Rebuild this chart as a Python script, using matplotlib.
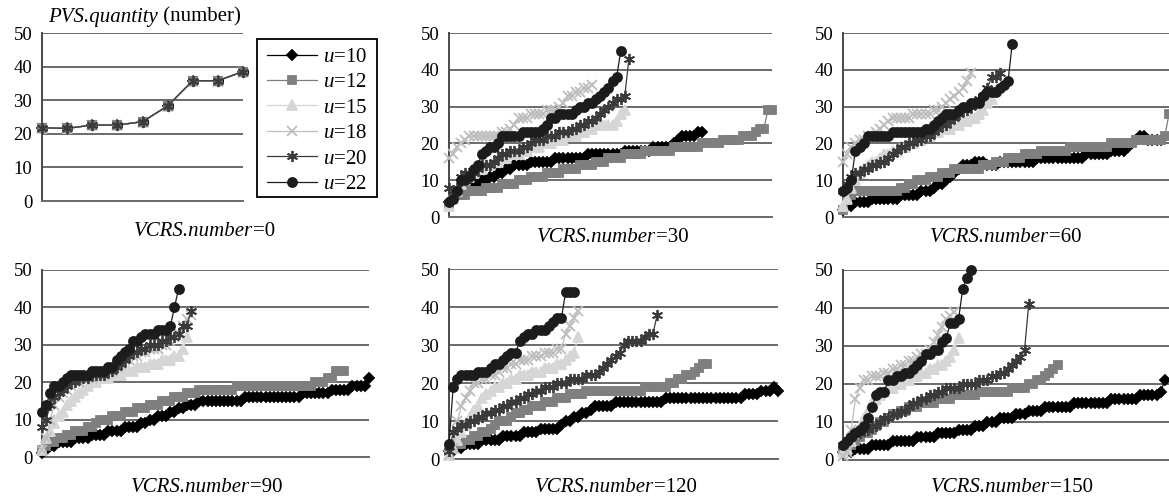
import matplotlib
matplotlib.use("Agg")
import matplotlib.pyplot as plt
from matplotlib.offsetbox import TextArea, HPacker, AnchoredOffsetbox
from matplotlib.patches import Rectangle
import numpy as np

plt.rcParams['font.family'] = ['Liberation Serif', 'DejaVu Serif']
plt.rcParams['mathtext.fontset'] = 'custom'
plt.rcParams['mathtext.it'] = 'Liberation Serif:italic'
plt.rcParams['mathtext.rm'] = 'Liberation Serif'

# ---- data (PVS.quantity per sample, sorted) ----
u_values = [10, 12, 15, 18, 20, 22]
vcrs_numbers = [0, 30, 60, 90, 120, 150]
y_ticks = [0, 10, 20, 30, 40, 50]

# VCRS.number = 0 : all u give the same curve
v0_all = [21.8, 21.6, 22.6, 22.6, 23.6, 28.3, 35.8, 35.8, 38.5]

# VCRS.number = 30
v30_u10 = [4, 5, 6, 7, 8, 8, 9, 9, 10, 10, 11, 11, 12, 12, 13, 13, 14, 14, 14, 14,
           15, 15, 15, 15, 15, 15, 16, 16, 16, 16, 16, 16, 16, 16, 17, 17, 17, 17, 17, 17,
           17, 17, 17, 18, 18, 18, 18, 18, 18, 18, 19, 19, 19, 19, 19, 20, 21, 22, 22, 22,
           22, 23, 23]
v30_u12 = [3, 5, 6, 6, 6, 7, 7, 7, 7, 8, 8, 8, 8, 9, 9, 9, 9, 10, 10, 10,
           11, 11, 11, 11, 12, 12, 12, 12, 13, 13, 13, 13, 14, 14, 14, 14, 15, 15, 15, 16,
           16, 16, 16, 17, 17, 17, 17, 17, 18, 18, 18, 18, 18, 18, 18, 19, 19, 19, 19, 19,
           19, 19, 20, 20, 20, 20, 20, 21, 21, 21, 21, 21, 22, 22, 22, 23, 24, 24, 29, 29]
v30_u15 = [3, 5, 7, 9, 10, 11, 12, 13, 13, 14, 14, 15, 15, 16, 16, 17, 17, 17, 18, 18,
           19, 19, 19, 20, 20, 20, 21, 21, 21, 22, 22, 22, 23, 23, 24, 24, 25, 25, 25, 25,
           25, 26, 28, 29]
v30_u18 = [16, 17, 19, 20, 21, 22, 22, 22, 22, 22, 22, 22, 22, 23, 23, 24, 25, 27, 27, 27,
           28, 28, 28, 28, 29, 29, 29, 30, 31, 33, 33, 34, 34, 35, 35, 36]
v30_u20 = [8, 7, 8, 11, 12, 12, 12, 13, 14, 14, 14, 15, 16, 17, 17, 18, 18, 18, 19, 19,
           20, 21, 21, 21, 22, 22, 22, 23, 23, 23, 24, 24, 25, 25, 26, 26, 27, 28, 29, 30,
           31, 32, 32, 33, 43]
v30_u22 = [4, 5, 7, 10, 10, 11, 13, 14, 17, 18, 19, 19, 20, 22, 22, 22, 22, 22, 23, 23,
           23, 23, 23, 24, 25, 27, 27, 28, 28, 28, 28, 29, 30, 30, 31, 31, 32, 33, 34, 35,
           37, 38, 45]

# VCRS.number = 60
v60_u10 = [2, 3, 3, 4, 4, 4, 4, 5, 5, 5, 5, 5, 5, 5, 6, 6, 6, 6, 6, 7,
           7, 7, 8, 9, 9, 10, 11, 12, 13, 14, 14, 14, 15, 15, 15, 14, 14, 14, 15, 15,
           15, 15, 15, 15, 15, 15, 15, 16, 16, 16, 16, 16, 16, 16, 16, 16, 16, 16, 16, 17,
           17, 17, 17, 17, 17, 18, 18, 18, 18, 19, 20, 21, 22, 22, 21, 21, 21, 21]
v60_u12 = [2, 5, 6, 7, 7, 7, 7, 7, 7, 7, 7, 7, 7, 7, 8, 8, 9, 9, 10, 10,
           10, 11, 11, 11, 12, 12, 12, 13, 13, 13, 13, 13, 13, 13, 14, 14, 14, 15, 15, 15,
           16, 16, 16, 16, 17, 17, 17, 17, 18, 18, 18, 18, 18, 18, 18, 19, 19, 19, 19, 19,
           19, 19, 19, 19, 19, 20, 20, 20, 20, 20, 20, 21, 21, 21, 21, 21, 21, 21, 22, 28]
v60_u15 = [3, 5, 8, 10, 12, 13, 14, 15, 15, 16, 17, 17, 18, 18, 19, 19, 20, 20, 21, 21,
           22, 22, 23, 23, 24, 24, 24, 25, 25, 26, 26, 27, 27, 28, 29, 31, 32]
v60_u18 = [15, 17, 19, 20, 21, 21, 22, 22, 23, 24, 25, 26, 27, 27, 27, 27, 27, 28, 28, 28,
           28, 28, 29, 29, 30, 31, 32, 33, 34, 35, 37, 39]
v60_u20 = [7, 9, 11, 12, 12, 13, 13, 14, 14, 15, 15, 16, 17, 18, 19, 19, 20, 20, 21, 21,
           22, 22, 23, 24, 25, 25, 26, 27, 28, 29, 29, 30, 31, 32, 33, 35, 38, 38, 39]
v60_u22 = [7, 8, 10, 18, 19, 20, 22, 22, 22, 22, 22, 22, 23, 23, 23, 23, 23, 23, 23, 23,
           24, 24, 25, 26, 27, 28, 28, 28, 29, 30, 30, 31, 31, 31, 33, 34, 34, 34, 35, 36,
           37, 47]

# VCRS.number = 90
v90_u10 = [1, 2, 3, 3, 4, 4, 4, 4, 5, 5, 5, 5, 6, 6, 6, 6, 7, 7, 7, 7,
           8, 8, 8, 8, 9, 9, 10, 10, 11, 11, 11, 12, 12, 13, 13, 14, 14, 14, 15, 15,
           15, 15, 15, 15, 15, 15, 15, 15, 15, 16, 16, 16, 16, 16, 16, 16, 16, 16, 16, 16,
           16, 16, 16, 17, 17, 17, 17, 17, 17, 17, 18, 18, 18, 18, 18, 19, 19, 19, 19, 21]
v90_u12 = [2, 3, 4, 4, 5, 5, 6, 6, 7, 7, 7, 8, 8, 9, 10, 10, 10, 11, 11, 11,
           12, 12, 12, 13, 13, 13, 14, 14, 14, 15, 15, 15, 16, 16, 16, 17, 17, 17, 18, 18,
           18, 18, 18, 18, 18, 18, 18, 19, 19, 19, 19, 19, 19, 19, 19, 19, 19, 19, 19, 19,
           19, 19, 19, 19, 19, 19, 20, 20, 20, 21, 21, 23, 23, 23]
v90_u15 = [2, 5, 7, 9, 11, 12, 14, 15, 16, 17, 18, 19, 20, 20, 21, 21, 21, 22, 22, 22,
           23, 23, 23, 24, 24, 24, 25, 25, 25, 26, 26, 26, 27, 27, 29, 32]
v90_u18 = [2, 5, 10, 14, 16, 17, 18, 19, 20, 20, 21, 21, 21, 22, 22, 22, 23, 23, 24, 25,
           26, 26, 27, 27, 28, 28, 29, 29, 29, 30, 30, 31, 32, 33, 35, 37, 38]
v90_u20 = [8, 10, 14, 16, 17, 18, 19, 20, 20, 21, 21, 21, 22, 22, 22, 22, 23, 23, 24, 25,
           26, 27, 28, 28, 29, 29, 30, 30, 30, 31, 31, 32, 32, 33, 35, 35, 39]
v90_u22 = [12, 14, 17, 19, 19, 20, 21, 22, 22, 22, 22, 22, 23, 23, 23, 23, 24, 24, 26, 27,
           28, 29, 31, 31, 32, 33, 33, 33, 34, 34, 34, 35, 40, 45]

# VCRS.number = 120
v120_u10 = [2, 2, 3, 3, 4, 4, 4, 4, 5, 5, 5, 5, 5, 6, 6, 6, 6, 6, 7, 7,
            7, 7, 8, 8, 8, 8, 8, 9, 10, 10, 11, 11, 12, 12, 13, 14, 14, 14, 14, 14,
            15, 15, 15, 15, 15, 15, 15, 15, 15, 15, 15, 15, 16, 16, 16, 16, 16, 16, 16, 16,
            16, 16, 16, 16, 16, 16, 16, 16, 16, 16, 16, 17, 17, 17, 17, 18, 18, 18, 19, 18]
v120_u12 = [2, 3, 4, 4, 5, 5, 6, 6, 7, 7, 8, 9, 10, 10, 10, 11, 12, 12, 13, 13,
            14, 14, 14, 15, 15, 15, 16, 16, 16, 17, 17, 17, 17, 18, 18, 18, 18, 18, 18, 18,
            18, 18, 18, 18, 18, 18, 18, 19, 19, 19, 19, 19, 19, 20, 20, 21, 21, 22, 22, 23,
            24, 25, 25]
v120_u15 = [1, 3, 5, 7, 9, 11, 13, 14, 16, 17, 18, 19, 19, 20, 20, 21, 21, 22, 22, 22,
            23, 23, 23, 24, 24, 24, 25, 25, 26, 27, 28, 32]
v120_u18 = [1, 3, 10, 14, 16, 18, 20, 20, 21, 21, 22, 22, 23, 24, 24, 25, 25, 26, 26, 26,
            27, 27, 27, 28, 28, 28, 29, 29, 33, 35, 37, 39]
v120_u20 = [2, 7, 8, 9, 9, 10, 10, 11, 11, 12, 12, 13, 13, 14, 14, 15, 15, 16, 16, 17,
            17, 18, 18, 19, 19, 19, 20, 20, 20, 21, 21, 21, 21, 22, 22, 22, 23, 24, 25, 26,
            27, 28, 30, 31, 31, 31, 31, 32, 33, 33, 38]
v120_u22 = [4, 19, 21, 22, 22, 22, 22, 23, 23, 23, 24, 25, 25, 26, 27, 28, 28, 31, 32, 33,
            33, 34, 34, 34, 35, 36, 37, 37, 44, 44, 44]

# VCRS.number = 150
v150_u10 = [2, 2, 2, 3, 3, 3, 3, 4, 4, 4, 4, 4, 5, 5, 5, 5, 5, 5, 6, 6,
            6, 6, 6, 7, 7, 7, 7, 7, 8, 8, 8, 8, 9, 9, 9, 10, 10, 10, 11, 11,
            11, 11, 12, 12, 12, 13, 13, 13, 13, 14, 14, 14, 14, 14, 14, 14, 15, 15, 15, 15,
            15, 15, 15, 15, 15, 16, 16, 16, 16, 16, 16, 16, 17, 17, 17, 17, 17, 18, 21]
v150_u12 = [2, 3, 4, 5, 6, 7, 7, 8, 9, 10, 10, 11, 12, 12, 13, 13, 14, 14, 14, 15,
            15, 15, 15, 16, 16, 16, 16, 17, 17, 17, 17, 17, 17, 18, 18, 18, 18, 18, 18, 18,
            18, 19, 19, 19, 19, 20, 20, 21, 21, 22, 23, 24, 25]
v150_u15 = [2, 3, 5, 7, 9, 11, 13, 15, 16, 17, 18, 19, 19, 20, 20, 21, 21, 22, 22, 23,
            23, 24, 24, 25, 25, 26, 27, 29, 32]
v150_u18 = [1, 2, 8, 16, 19, 21, 21, 22, 22, 22, 23, 23, 24, 24, 25, 25, 26, 26, 27, 28,
            28, 29, 31, 33, 35, 37, 38, 39]
v150_u20 = [4, 5, 6, 7, 7, 8, 8, 9, 9, 10, 11, 11, 12, 12, 13, 13, 14, 15, 15, 16,
            16, 17, 17, 18, 18, 19, 19, 19, 19, 20, 20, 20, 20, 21, 21, 21, 22, 22, 23, 23,
            24, 25, 26, 27, 29, 41]
v150_u22 = [4, 5, 6, 7, 8, 9, 11, 14, 17, 18, 18, 21, 21, 22, 22, 23, 23, 24, 25, 26,
            28, 28, 29, 29, 31, 32, 36, 36, 37, 45, 48, 50]

panels = [
    [v0_all] * 6,
    [v30_u10, v30_u12, v30_u15, v30_u18, v30_u20, v30_u22],
    [v60_u10, v60_u12, v60_u15, v60_u18, v60_u20, v60_u22],
    [v90_u10, v90_u12, v90_u15, v90_u18, v90_u20, v90_u22],
    [v120_u10, v120_u12, v120_u15, v120_u18, v120_u20, v120_u22],
    [v150_u10, v150_u12, v150_u15, v150_u18, v150_u20, v150_u22],
]

# ---- styles ----
markers = ['D', 's', '^', 'x', (6, 2, 0), 'o']
colors = ['#000000', '#7f7f7f', '#d6d6d6', '#bdbdbd', '#3a3a3a', '#1c1c1c']
msizes = [5.5, 6, 6.5, 7, 8, 6.5]
grid_color = '#6a6a6a'

W, H = 1169, 497
fig = plt.figure(figsize=(W / 100, H / 100), dpi=100)


def mixed_label(x, y, italic, plain, size, ha='center'):
    # italic part followed directly by an upright part
    parts = [TextArea(italic, textprops=dict(fontstyle='italic', fontsize=size)),
             TextArea(plain, textprops=dict(fontsize=size))]
    box = HPacker(children=parts, align='baseline', pad=0, sep=0)
    loc = {'center': 'center', 'left': 'center left'}[ha]
    ab = AnchoredOffsetbox(loc=loc, child=box, pad=0, borderpad=0, frameon=False,
                           bbox_to_anchor=(x / W, 1 - y / H),
                           bbox_transform=fig.transFigure)
    fig.add_artist(ab)


# axes boxes in pixels: left, top, right, bottom
boxes = [
    (42, 33, 243, 201),
    (449, 33, 772, 217),
    (843, 33, 1169, 217),
    (42, 270, 369, 457),
    (449, 269, 778, 459),
    (843, 270, 1169, 460),
]
label_pos = [(205, 231), (613, 238), (1006, 238), (207, 487), (616, 487), (1012, 487)]

legend_handles = []
for k, (box, series) in enumerate(zip(boxes, panels)):
    l, t, r, b = box
    ax = fig.add_axes([l / W, 1 - b / H, (r - l) / W, (b - t) / H])
    nmax = 8 if k == 0 else 79
    for j, vals in enumerate(series):
        x = np.arange(len(vals))
        z = 3 + j
        if k == 0:
            z = {0: 3, 1: 7, 2: 4, 3: 5, 4: 8, 5: 2}[j]
        line, = ax.plot(x, vals, color=colors[j], lw=0.9, marker=markers[j],
                        ms=msizes[j], mfc=colors[j], mec=colors[j], mew=1.3,
                        clip_on=False, zorder=z,
                        label=r'$\mathit{u}$=%d' % u_values[j])
        if k == 0:
            legend_handles.append(line)
    ax.set_xlim(0, nmax)
    ax.set_ylim(0, 50)
    ax.set_yticks(y_ticks)
    ax.set_xticks([])
    ax.yaxis.grid(True, color=grid_color, lw=1.4)
    ax.set_axisbelow(True)
    for s in ['top', 'right']:
        ax.spines[s].set_visible(False)
    ax.spines['left'].set_color('#4a4a4a')
    ax.spines['left'].set_linewidth(1.4)
    ax.spines['bottom'].set_color(grid_color)
    ax.spines['bottom'].set_linewidth(1.4)
    ax.tick_params(axis='y', length=0, pad=7, labelsize=13.5)
    ax.patch.set_alpha(0)
    lx, ly = label_pos[k]
    mixed_label(lx, ly, 'VCRS.number', '=%d' % vcrs_numbers[k], 15)

mixed_label(48, 17, 'PVS.quantity', ' (number)', 15, ha='left')

# legend with an Excel-like box drawn around it
fig.add_artist(Rectangle((257 / W, 1 - 197 / H), 120 / W, 158 / H,
                         transform=fig.transFigure, fill=False,
                         edgecolor='#000000', lw=1.3))
fig.legend(handles=legend_handles, loc='upper left',
           bbox_to_anchor=(259 / W, 1 - 39 / H), frameon=False,
           fontsize=15, numpoints=1, handlelength=2.4, handletextpad=0.25,
           labelspacing=0.28, borderpad=0.4, borderaxespad=0)

fig.savefig('out.png', dpi=100)
